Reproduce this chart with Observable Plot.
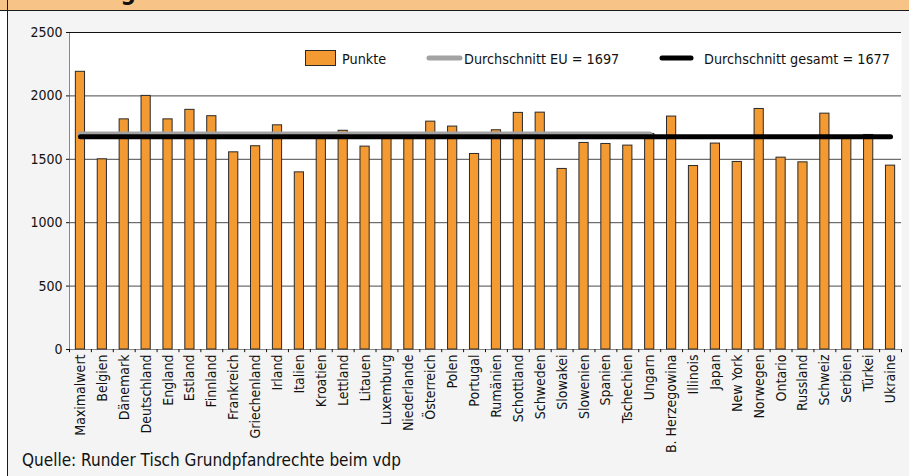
<!DOCTYPE html>
<html>
<head>
<meta charset="utf-8">
<script src="https://cdn.jsdelivr.net/npm/d3@7"></script>
<script src="https://cdn.jsdelivr.net/npm/@observablehq/plot@0.6"></script>
<style>
  html, body { margin: 0; padding: 0; }
  body { width: 909px; height: 476px; overflow: hidden; background: #f4f4f4; font-family: "Liberation Sans Narrow", "DejaVu Sans Condensed", "Liberation Sans", sans-serif; }
  #wrap { position: relative; width: 909px; height: 476px; }
  #leftstrip { position: absolute; left: 0; top: 0; width: 7px; height: 476px; background: #ffffff; }
  #titlebar { position: absolute; left: 0; top: 0; width: 909px; height: 10px; background: #f8c386; border-bottom: 1px solid #1a1a1a; overflow: hidden; }
  #titlebar span { position: absolute; left: 12px; top: -20px; font-weight: bold; font-size: 24px; line-height: 24px; color: #111; white-space: nowrap; }
  #leftborder { position: absolute; left: 7px; top: 0; width: 1px; height: 476px; background: #1a1a1a; }
  #chart { position: absolute; left: 0; top: 11px; }
  #caption { position: absolute; left: 22px; top: 450px; font-size: 17px; color: #111; white-space: nowrap; }
</style>
</head>
<body>
<div id="wrap">
  <div id="leftstrip"></div>
  <div id="titlebar"><span>Abbildung</span></div>
  <div id="leftborder"></div>
  <div id="chart"></div>
  <div id="caption">Quelle: Runder Tisch Grundpfandrechte beim vdp</div>
</div>
<script>
const categories = ["Maximalwert","Belgien","Dänemark","Deutschland","England","Estland","Finnland","Frankreich","Griechenland","Irland","Italien","Kroatien","Lettland","Litauen","Luxemburg","Niederlande","Österreich","Polen","Portugal","Rumänien","Schottland","Schweden","Slowakei","Slowenien","Spanien","Tschechien","Ungarn","B. Herzegowina","Illinois","Japan","New York","Norwegen","Ontario","Russland","Schweiz","Serbien","Türkei","Ukraine"];
const punkte = [2190,1500,1815,2000,1815,1890,1840,1555,1603,1768,1397,1680,1725,1600,1690,1670,1797,1758,1542,1729,1866,1868,1424,1629,1621,1608,1700,1837,1447,1624,1479,1897,1513,1476,1860,1680,1692,1450];
const euCategories = categories.slice(0, 27); // Maximalwert … Ungarn
const euAverage = 1697;
const totalAverage = 1677;
const yTicks = [0, 500, 1000, 1500, 2000, 2500];
const gridTicks = [500, 1000, 1500, 2000];
const legendLabels = ["Punkte", "Durchschnitt EU = 1697", "Durchschnitt gesamt = 1677"];

const data = categories.map((c, i) => ({category: c, value: punkte[i]}));

const W = 909, H = 462, mL = 69, mR = 8, mT = 21, mB = 124;
const step = (W - mL - mR) / categories.length;
const font = '"Liberation Sans Narrow", "DejaVu Sans Condensed", "Liberation Sans", sans-serif';

const plot = Plot.plot({
  width: W, height: H,
  marginLeft: mL, marginRight: mR, marginTop: mT, marginBottom: mB,
  style: {fontFamily: font, fontSize: "14px", background: "transparent", color: "#111"},
  x: {domain: categories, paddingInner: 0.58, paddingOuter: 0.29, tickSize: 0, tickRotate: -90, tickPadding: 5, label: null, line: true},
  y: {domain: [0, 2500], ticks: yTicks, tickSize: 3, tickPadding: 4, label: null, line: true, tickFormat: d => String(d)},
  marks: [
    Plot.frame({fill: "white", stroke: null}),
    Plot.ruleY(gridTicks, {stroke: "#4a4a4a", strokeWidth: 1}),
    Plot.ruleY([2500], {stroke: "#111", strokeWidth: 1}),
    Plot.barY(data, {x: "category", y: "value", fill: "#f39a32", stroke: "#2a2a2a", strokeWidth: 1}),
    Plot.lineY(euCategories, {x: d => d, y: () => euAverage, stroke: "#a3a3a3", strokeWidth: 5.5, strokeLinecap: "round"}),
    Plot.lineY(categories, {x: d => d, y: () => totalAverage, stroke: "#000", strokeWidth: 5, strokeLinecap: "round"}),
    Plot.ruleX(categories, {x: d => d, y1: 0, y2: -25, dx: step / 2, stroke: "#111"}),
    Plot.ruleX(categories.slice(0, 1), {x: d => d, y1: 0, y2: -25, dx: -step / 2, stroke: "#111"})
  ]
});

// legend inside the plot area
const svg = d3.select(plot);
const lg = svg.append("g").attr("font-family", font).attr("font-size", 14.3).attr("fill", "#111").attr("text-anchor", "start");
lg.append("rect").attr("x", 305.5).attr("y", 39.5).attr("width", 30).attr("height", 15).attr("fill", "#f39a32").attr("stroke", "#2a2a2a");
lg.append("text").attr("x", 342).attr("y", 53).attr("text-anchor", "start").text(legendLabels[0]);
lg.append("line").attr("x1", 429).attr("x2", 460).attr("y1", 47).attr("y2", 47).attr("stroke", "#a3a3a3").attr("stroke-width", 5).attr("stroke-linecap", "round");
lg.append("text").attr("x", 464).attr("y", 53).attr("text-anchor", "start").text(legendLabels[1]);
lg.append("line").attr("x1", 662).attr("x2", 691).attr("y1", 47).attr("y2", 47).attr("stroke", "#000").attr("stroke-width", 5).attr("stroke-linecap", "round");
lg.append("text").attr("x", 704).attr("y", 53).attr("text-anchor", "start").text(legendLabels[2]);

document.getElementById("chart").appendChild(plot);
</script>
</body>
</html>
